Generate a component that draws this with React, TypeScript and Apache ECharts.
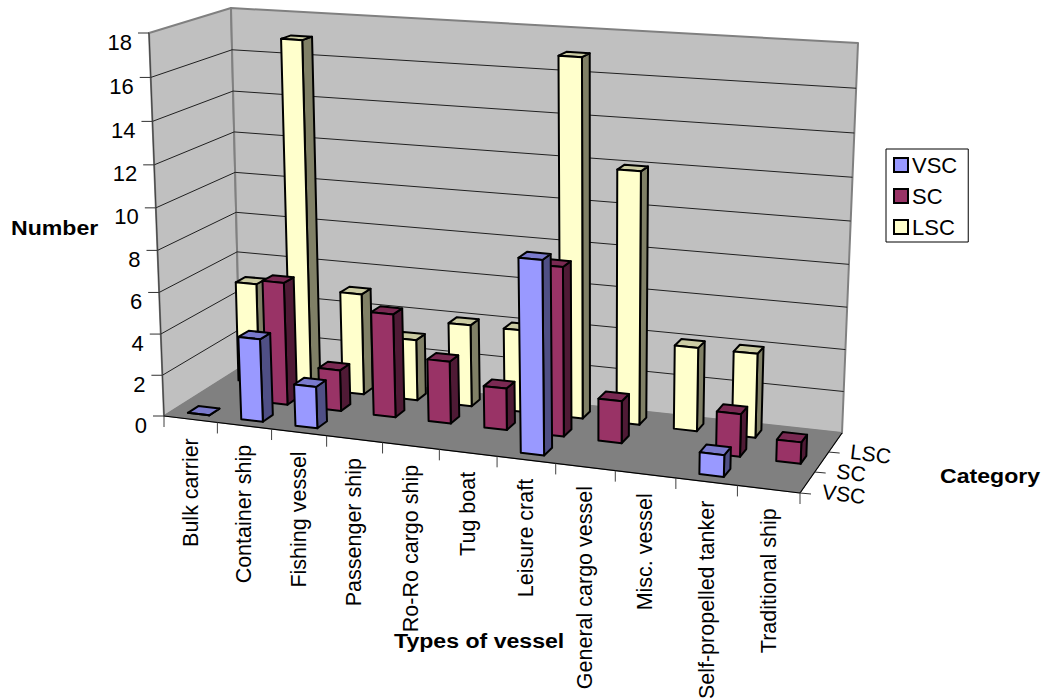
import React, { useEffect, useRef } from "react";
import * as echarts from "echarts";

const categories = [
  "Bulk carrier", "Container ship", "Fishing vessel", "Passenger ship", "Ro-Ro cargo ship",
  "Tug boat", "Leisure craft", "General cargo vessel", "Misc. vessel", "Self-propelled tanker", "Traditional ship",
];
const depthNames = ["VSC", "SC", "LSC"];
const vscValues = [0, 4, 2, null, null, null, 9, null, null, 1, null];
const scValues = [null, 6, 2, 5, 3, 2, 8, 2, null, 2, 1];
const lscValues = [5, 17, 5, 3, 4, 4, 17, 12, 4, 4, null];
const valueTicks = [0, 2, 4, 6, 8, 10, 12, 14, 16, 18];

type Pt = [number, number];
const FONT = "'Liberation Sans', Arial, sans-serif";

// Corners of the floor and of the ceiling of the plot box, on screen.
const FLOOR: Pt[] = [[164, 416], [800, 493], [842, 433], [240, 368]];
const CEILING: Pt[] = [[149, 33], [815, 76], [858, 43], [231, 8]];
const PERSPECTIVE_K = 0.05;
const CATEGORY_WARP = 1.052;

// Hidden cartesian grid that supplies the scales.
const GRID = { left: 100, top: 100, width: 500, height: 500 };

function squareToQuad(q: Pt[]) {
  const [[x0, y0], [x1, y1], [x2, y2], [x3, y3]] = q;
  const dx1 = x1 - x2, dx2 = x3 - x2, sx = x0 - x1 + x2 - x3;
  const dy1 = y1 - y2, dy2 = y3 - y2, sy = y0 - y1 + y2 - y3;
  const det = dx1 * dy2 - dx2 * dy1;
  const g = (sx * dy2 - dx2 * sy) / det;
  const h = (dx1 * sy - sx * dy1) / det;
  const a = x1 - x0 + g * x1, b = x3 - x0 + h * x3;
  const d = y1 - y0 + g * y1, e = y3 - y0 + h * y3;
  return (u: number, s: number): Pt => {
    const n = g * u + h * s + 1;
    return [(a * u + b * s + x0) / n, (d * u + e * s + y0) / n];
  };
}
const floorMap = squareToQuad(FLOOR);
const ceilingMap = squareToQuad(CEILING);

// u along the categories, s into the depth, w up the value scale; all 0..1.
function project(u: number, s: number, w: number): Pt {
  const t = w / (1 + PERSPECTIVE_K - PERSPECTIVE_K * w);
  const uu = (CATEGORY_WARP * u) / (1 + (CATEGORY_WARP - 1) * u);
  const b = floorMap(uu, s), c = ceilingMap(uu, s);
  return [b[0] + (c[0] - b[0]) * t, b[1] + (c[1] - b[1]) * t];
}

const normU = (px: number) => (px - GRID.left) / GRID.width;
const normW = (py: number) => (GRID.top + GRID.height - py) / GRID.height;

const BAR_FRACTION = 0.4;

const shade = {
  VSC: { front: "#9999FF", side: "#4F4F85", top: "#7A7ACC" },
  SC: { front: "#993366", side: "#4F1A35", top: "#7A2952" },
  LSC: { front: "#FFFFCC", side: "#808066", top: "#CCCCA3" },
} as Record<string, { front: string; side: string; top: string }>;

function polygon(points: Pt[], fill: string, stroke = "#000", lineWidth = 2) {
  return { type: "polygon", shape: { points }, style: { fill, stroke, lineWidth, lineJoin: "round" }, silent: true };
}
function line(a: Pt, b: Pt, stroke = "#000", lineWidth = 1) {
  return {
    type: "line",
    shape: { x1: a[0], y1: a[1], x2: b[0], y2: b[1] },
    style: { stroke, lineWidth, fill: "none" },
    silent: true,
  };
}
function text(str: string, x: number, y: number, extra: Record<string, unknown> = {}, styleExtra: Record<string, unknown> = {}) {
  return {
    type: "text",
    x,
    y,
    silent: true,
    ...extra,
    style: { text: str, fontFamily: FONT, fontSize: 20, fill: "#000", ...styleExtra },
  };
}

function barSeries(name: string, values: (number | null)[], row: number) {
  const colors = shade[name];
  const data = values
    .map((v, i) => (v === null ? null : [i, v]))
    .filter(Boolean)
    .reverse();
  return {
    type: "custom",
    name,
    z: 6 - row,
    clip: false,
    itemStyle: { color: colors.front },
    data,
    renderItem: (_p: unknown, api: any) => {
      const c = api.coord([api.value(0), api.value(1)]);
      const bandU = api.size([1, 0])[0] / GRID.width;
      const u = normU(c[0]);
      const w = normW(c[1]);
      const hu = (bandU * BAR_FRACTION) / 2;
      const hs = BAR_FRACTION / 3 / 2;
      const sc = (row + 0.5) / 3;
      const u0 = u - hu, u1 = u + hu, s0 = sc - hs, s1 = sc + hs;
      return {
        type: "group",
        children: [
          polygon([project(u1, s0, 0), project(u1, s1, 0), project(u1, s1, w), project(u1, s0, w)], colors.side),
          polygon([project(u0, s0, w), project(u1, s0, w), project(u1, s1, w), project(u0, s1, w)], colors.top),
          polygon([project(u0, s0, 0), project(u1, s0, 0), project(u1, s0, w), project(u0, s0, w)], colors.front),
        ],
      };
    },
  };
}

// Walls, floor, grid lines, ticks and their labels.
function frameSeries() {
  return {
    type: "custom",
    name: "frame",
    z: 1,
    clip: false,
    silent: true,
    data: [[0, 0]],
    renderItem: (_p: unknown, api: any) => {
      const children: any[] = [];
      const wallStroke = "#808080";
      children.push(polygon([project(0, 0, 0), project(0, 1, 0), project(0, 1, 1), project(0, 0, 1)], "#C0C0C0", wallStroke, 2));
      children.push(polygon([project(0, 1, 0), project(1, 1, 0), project(1, 1, 1), project(0, 1, 1)], "#C0C0C0", wallStroke, 2));
      children.push(polygon([project(0, 0, 0), project(1, 0, 0), project(1, 1, 0), project(0, 1, 0)], "#808080", "#808080", 1));

      valueTicks.forEach((v) => {
        const w = normW(api.coord([0, v])[1]);
        const a = project(0, 0, w);
        if (v > 0 && v < 18) {
          const b = project(0, 1, w);
          const c = project(1, 1, w);
          children.push(line(a, b, "#202020", 1));
          children.push(line(b, c, "#202020", 1));
        }
        children.push(line([a[0] - 11, a[1]], a, "#303030", 1));
        children.push(
          text(String(v), a[0] - 17, a[1] + 9, {}, { align: "right", verticalAlign: "middle", fontSize: 22 })
        );
      });

      children.push(line(project(0, 0, 0), project(0, 0, 1), "#404040", 1));
      children.push(line(project(0, 0, 0), project(1, 0, 0), "#000", 1.2));
      children.push(line(project(1, 0, 0), project(1, 1, 0), "#000", 1.2));

      const band = api.size([1, 0])[0] / GRID.width;
      for (let k = 0; k <= categories.length; k++) {
        const p = project(k * band, 0, 0);
        children.push(line(p, [p[0], p[1] + 11], "#404040", 1));
      }
      categories.forEach((name, i) => {
        const u = normU(api.coord([i, 0])[0]);
        const p = project(u, 0, 0);
        children.push(
          text(name, p[0], p[1] + 19, { rotation: Math.PI / 2 }, { align: "right", verticalAlign: "middle", fontSize: 21.5 })
        );
      });

      depthNames.forEach((_n, r) => {
        const p = project(1, r / 3, 0);
        children.push(line(p, [p[0] + 11, p[1] + 1], "#303030", 1));
      });
      depthNames.forEach((name, r) => {
        const p = project(1, (r + 0.5) / 3, 0);
        children.push(
          text(name, p[0] + 15, p[1] + 9, { rotation: -0.12 }, { align: "left", verticalAlign: "middle", fontSize: 21 })
        );
      });
      return { type: "group", children };
    },
  };
}

function axisTitle(str: string, x: number, y: number) {
  return {
    type: "text",
    x,
    y,
    scaleX: 1.1,
    style: { text: str, font: `bold 21px ${FONT}`, fill: "#000", verticalAlign: "middle" },
  };
}

export default function App() {
  const ref = useRef<HTMLDivElement>(null);
  useEffect(() => {
    if (!ref.current) return;
    const chart = echarts.init(ref.current, undefined, { renderer: "svg" });
    chart.setOption({
      animation: false,
      backgroundColor: "#fff",
      grid: { ...GRID, show: false },
      xAxis: { type: "category", data: categories, show: false },
      yAxis: { type: "value", min: 0, max: 18, interval: 2, show: false },
      legend: {
        orient: "vertical",
        left: 886,
        top: 149,
        padding: [5, 11, 4, 7],
        itemWidth: 14,
        itemHeight: 14,
        itemGap: 9,
        borderColor: "#000",
        borderWidth: 1,
        backgroundColor: "#fff",
        selectedMode: false,
        textStyle: { fontFamily: FONT, fontSize: 22, color: "#000", padding: [0, 0, 0, -1] },
        data: depthNames.map((name) => ({
          name,
          icon: "rect",
          itemStyle: { color: shade[name].front, borderColor: "#000", borderWidth: 2 },
        })),
      },
      graphic: [
        axisTitle("Number", 11, 228),
        axisTitle("Types of vessel", 394, 641),
        axisTitle("Category", 940, 476),
      ],
      series: [
        frameSeries(),
        barSeries("LSC", lscValues, 2),
        barSeries("SC", scValues, 1),
        barSeries("VSC", vscValues, 0),
      ],
    });
    return () => chart.dispose();
  }, []);
  return <div ref={ref} style={{ position: "fixed", left: 0, top: 0, width: 1046, height: 698 }} />;
}
